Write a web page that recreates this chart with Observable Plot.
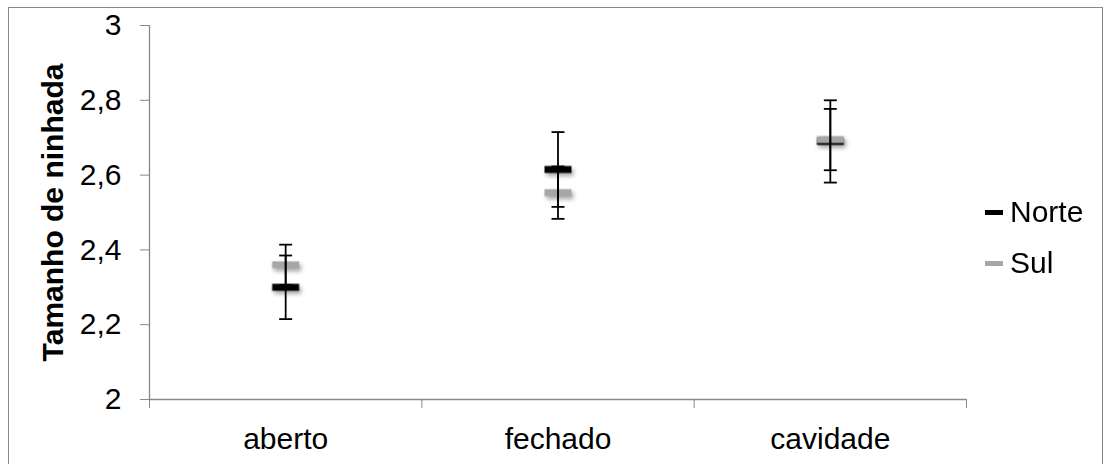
<!DOCTYPE html>
<html>
<head>
<meta charset="utf-8">
<script src="https://cdn.jsdelivr.net/npm/d3@7"></script>
<script src="https://cdn.jsdelivr.net/npm/@observablehq/plot@0.6"></script>
<style>
  html, body { margin: 0; padding: 0; background: #fff; overflow: hidden; }
  #wrap { position: relative; width: 1109px; height: 464px; font-family: "Liberation Sans", Arial, sans-serif; }
  #border { position: absolute; left: 8px; top: 7px; width: 1095px; height: 480px; border: 1px solid #888; box-sizing: border-box; pointer-events: none; }
  #legend { position: absolute; left: 985px; top: 0; font-size: 30px; color: #000; }
  #legend .item { position: absolute; left: 0; display: flex; align-items: center; white-space: nowrap; height: 36px; }
  #legend .sw { width: 18px; height: 5px; margin-right: 7px; }
  .shadow { filter: drop-shadow(2px 3px 2px rgba(0,0,0,0.35)); }
</style>
</head>
<body>
<div id="wrap">
  <div id="chart"></div>
  <div id="border"></div>
  <div id="legend"></div>
</div>
<script>
const categories = ["aberto", "fechado", "cavidade"];
const seriesNames = ["Norte", "Sul"];
const seriesColors = ["#000000", "#a6a6a6"];
const norteMean = [2.30, 2.615, 2.69];
const norteErr = [0.085, 0.10, 0.11];
const sulMean = [2.36, 2.553, 2.695];
const sulErr = [0.054, 0.07, 0.082];
const yTicks = [2, 2.2, 2.4, 2.6, 2.8, 3];

const rows = [];
categories.forEach((c, i) => {
  rows.push({cat: c, pos: i + 0.5, series: "Norte", mean: norteMean[i], err: norteErr[i]});
  rows.push({cat: c, pos: i + 0.5, series: "Sul", mean: sulMean[i], err: sulErr[i]});
});
const caps = rows.flatMap(d => [{pos: d.pos, y: d.mean - d.err}, {pos: d.pos, y: d.mean + d.err}]);

const capSymbol = { draw(ctx) { ctx.moveTo(-6.5, 0); ctx.lineTo(6.5, 0); } };
const barSymbol = { draw(ctx) { ctx.rect(-13.5, -3.5, 27, 7); } };

const fmt = v => String(Math.round(v * 10) / 10).replace(".", ",");

const chart = Plot.plot({
  width: 1109,
  height: 464,
  marginLeft: 149,
  marginRight: 143,
  marginTop: 25,
  marginBottom: 65,
  style: { fontFamily: "Liberation Sans, Arial, sans-serif", fontSize: "30px", color: "#000", background: "transparent", overflow: "visible" },
  x: { domain: [0, categories.length] },
  y: { domain: [2, 3] },
  color: { domain: seriesNames, range: seriesColors },
  marks: [
    Plot.ruleX([0], { y1: 2, y2: 3, stroke: "#888", strokeWidth: 1.3 }),
    Plot.ruleY([2], { x1: 0, x2: categories.length, stroke: "#888", strokeWidth: 1.3 }),
    Plot.axisY({ ticks: yTicks, tickFormat: fmt, tickSize: 9, tickPadding: 19, stroke: "#888", fill: "#000", fontSize: 30, label: null }),
    Plot.axisY({ ticks: [], label: "Tamanho de ninhada", labelAnchor: "center", labelArrow: "none", labelOffset: 108, fontSize: 30, fontWeight: "bold", fill: "#000" }),
    Plot.axisX({ ticks: d3.range(categories.length + 1), tickFormat: () => "", tickSize: 9, stroke: "#888", label: null }),
    Plot.axisX({ ticks: categories.map((c, i) => i + 0.5), tickFormat: (d) => categories[Math.floor(d)], tickSize: 0, tickPadding: 28, fontSize: 30, fill: "#000", label: null }),
    Plot.dot(rows, { x: "pos", y: "mean", fill: "series", stroke: null, symbol: barSymbol, r: 4, className: "shadow" }),
    Plot.ruleX(rows, { x: "pos", y1: d => d.mean - d.err, y2: d => d.mean + d.err, stroke: "#000", strokeWidth: 1.8 }),
    Plot.dot(caps, { x: "pos", y: "y", stroke: "#000", fill: "none", strokeWidth: 1.8, symbol: capSymbol, r: 4 })
  ]
});
document.getElementById("chart").appendChild(chart);

const legend = document.getElementById("legend");
const legendCenters = [212, 263];
seriesNames.forEach((s, i) => {
  const item = document.createElement("div");
  item.className = "item";
  item.style.top = (legendCenters[i] - 18) + "px";
  item.innerHTML = `<span class="sw" style="background:${seriesColors[i]}"></span><span>${s}</span>`;
  legend.appendChild(item);
});
</script>
</body>
</html>
